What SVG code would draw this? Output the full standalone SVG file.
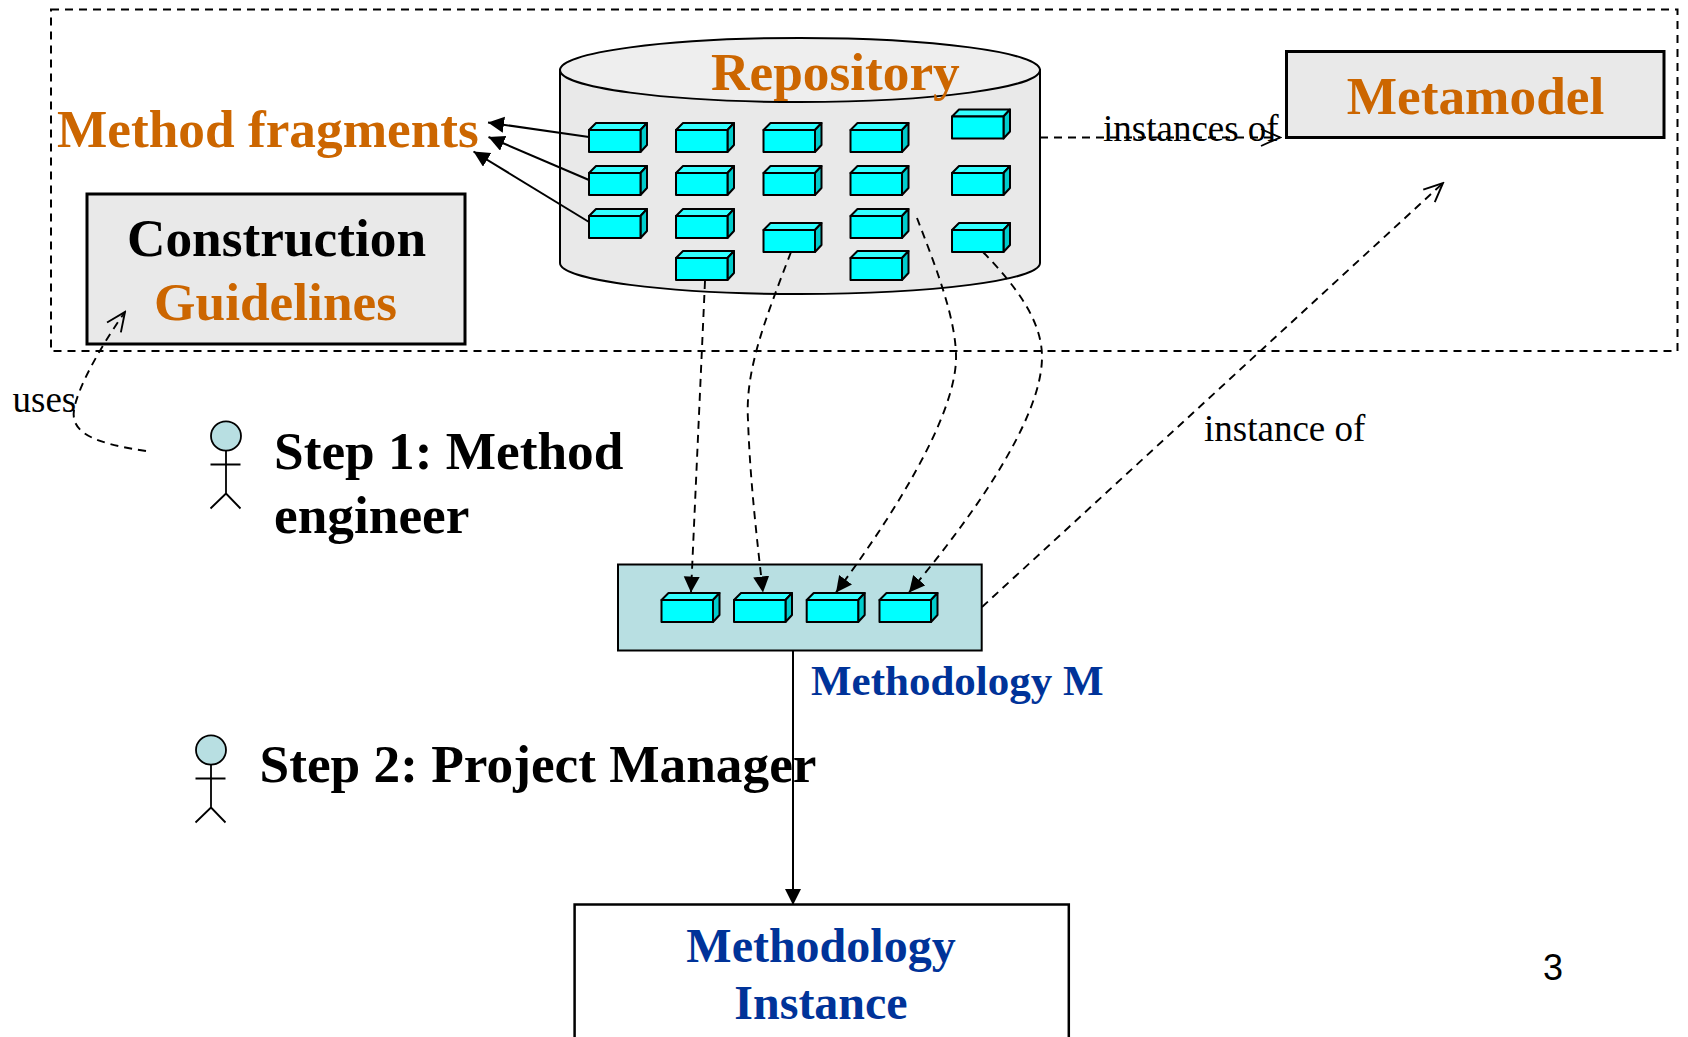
<svg xmlns="http://www.w3.org/2000/svg" width="1688" height="1037" viewBox="0 0 1688 1037">
<style>
text{font-family:"Liberation Serif","Times New Roman",serif}
.big{font-size:53.3px;font-weight:bold}
.lab{font-size:37px;fill:#000}
.or{fill:#cc6600}.bl{fill:#003399}.bk{fill:#000}
.m{text-anchor:middle}
.grey{fill:#e9e9e9;stroke:#000;stroke-width:3}
.d{fill:none;stroke:#000;stroke-width:1.9;stroke-dasharray:8 6}
.da{marker-end:url(#open)}.df{marker-end:url(#fill)}
.s{fill:none;stroke:#000;stroke-width:2}
.sa{marker-end:url(#fill)}
.fig{fill:none;stroke:#000;stroke-width:1.8}
</style>
<defs>
<marker id="fill" markerUnits="userSpaceOnUse" markerWidth="17" markerHeight="17" refX="16" refY="8" orient="auto"><path d="M0 0L16 8L0 16Z" fill="#000"/></marker>
<marker id="open" markerUnits="userSpaceOnUse" markerWidth="22" markerHeight="22" refX="20" refY="10" orient="auto"><path d="M1 1.5L20 10L1 18.5" fill="none" stroke="#000" stroke-width="1.9"/></marker>
<g id="cube" stroke="#000" stroke-width="2" stroke-linejoin="round">
<path d="M0 0L7 -7H58L51.5 0Z" fill="#33ffff"/>
<path d="M51.5 0L58 -7V15L51.5 22Z" fill="#00cccc"/>
<rect width="51.5" height="22" fill="#00ffff"/>
</g>
<g id="actor">
<ellipse cx="226" cy="436" rx="15" ry="14.7" fill="#b8dfe2" stroke="#000" stroke-width="1.8"/>
<path class="fig" d="M226 451V493.5L210.5 508.5M226 493.5L240.5 508.5M210.5 464.5H240.5"/>
</g>
</defs>
<rect id="scope" x="51" y="9.5" width="1626.5" height="341.5" fill="none" stroke="#000" stroke-width="2" stroke-dasharray="8 6"/>
<g id="repository">
<path d="M560 70V263C560 280 667 294 800 294S1040 280 1040 263V70Z" fill="#e9e9e9" stroke="#000" stroke-width="2"/>
<ellipse cx="800" cy="70" rx="240" ry="32" fill="#eeeeee" stroke="#000" stroke-width="2"/>
</g>
<g id="construction-guidelines"><rect class="grey" x="87" y="194" width="378" height="150"/></g>
<g id="metamodel"><rect class="grey" x="1286.5" y="51.5" width="377.5" height="86"/></g>
<g id="methodology-m"><rect x="618" y="564.5" width="363.7" height="86" fill="#b8dfe2" stroke="#000" stroke-width="2"/></g>
<g id="methodology-instance"><rect x="574.6" y="904.5" width="494.2" height="145" fill="#fff" stroke="#000" stroke-width="2.5"/></g>
<g id="fragments">
<g id="f1"><use href="#cube" x="589" y="130"/></g><g id="f2"><use href="#cube" x="589" y="173"/></g><g id="f3"><use href="#cube" x="589" y="216"/></g>
<g id="f4"><use href="#cube" x="676" y="130"/></g><g id="f5"><use href="#cube" x="676" y="173"/></g><g id="f6"><use href="#cube" x="676" y="216"/></g><g id="f7"><use href="#cube" x="676" y="258"/></g>
<g id="f8"><use href="#cube" x="763.5" y="130"/></g><g id="f9"><use href="#cube" x="763.5" y="173"/></g><g id="f10"><use href="#cube" x="763.5" y="230"/></g>
<g id="f11"><use href="#cube" x="850.5" y="130"/></g><g id="f12"><use href="#cube" x="850.5" y="173"/></g><g id="f13"><use href="#cube" x="850.5" y="216"/></g><g id="f14"><use href="#cube" x="850.5" y="258"/></g>
<g id="f15"><use href="#cube" x="952" y="116.5"/></g><g id="f16"><use href="#cube" x="952" y="173"/></g><g id="f17"><use href="#cube" x="952" y="230"/></g>
</g>
<g id="selected">
<g id="s1"><use href="#cube" x="661.5" y="600"/></g><g id="s2"><use href="#cube" x="734" y="600"/></g><g id="s3"><use href="#cube" x="806.7" y="600"/></g><g id="s4"><use href="#cube" x="879.5" y="600"/></g>
</g>
<g id="connectors">
<path class="s sa" d="M589 137L488 122.5"/>
<path class="s sa" d="M589 180L488.5 137"/>
<path class="s sa" d="M589 222L473.5 151.5"/>
<path class="s sa" d="M793 650V905"/>
<path class="d da" d="M146 451C100 444 70 435 74 410C78 385 105 340 125 312"/>
<path class="d da" d="M1040 137.5H1280"/>
<path class="d da" d="M982 607L1443 183"/>
<path class="d df" d="M705 281L691 592.5"/>
<path class="d df" d="M791 252C765 320 745 370 748 420C750 480 757 540 763 592.5"/>
<path class="d df" d="M917 218C935 265 957 320 956 360C954 420 890 520 836 592.5"/>
<path class="d df" d="M983 252C1015 285 1042 320 1042 357C1042 420 970 520 909 592.5"/>
</g>
<g id="step1"><use href="#actor"/><text class="big bk" x="274" y="468.5">Step 1: Method</text><text class="big bk" x="274" y="533">engineer</text></g>
<g id="step2"><use href="#actor" x="-15" y="314"/><text class="big bk" x="259.5" y="782">Step 2: Project Manager</text></g>
<g id="labels">
<text class="big or" x="57" y="146.5">Method fragments</text>
<text class="big or" x="711" y="89.5">Repository</text>
<text class="big or m" x="1475.5" y="114">Metamodel</text>
<text class="big bk m" x="276.5" y="256">Construction</text>
<text class="big or m" x="275.5" y="320">Guidelines</text>
<text class="bl" x="811" y="694.5" style="font-size:43px;font-weight:bold">Methodology M</text>
<text class="bl m" x="821" y="961.5" style="font-size:48px;font-weight:bold">Methodology</text>
<text class="bl m" x="821" y="1018.5" style="font-size:48px;font-weight:bold">Instance</text>
<text class="lab" x="12.5" y="411.5">uses</text>
<text class="lab" x="1103" y="140.5">instances of</text>
<text class="lab" x="1204" y="440.5">instance of</text>
<text x="1543" y="979.5" style="font-family:'Liberation Sans',Arial,sans-serif;font-size:36px">3</text>
</g>
</svg>
